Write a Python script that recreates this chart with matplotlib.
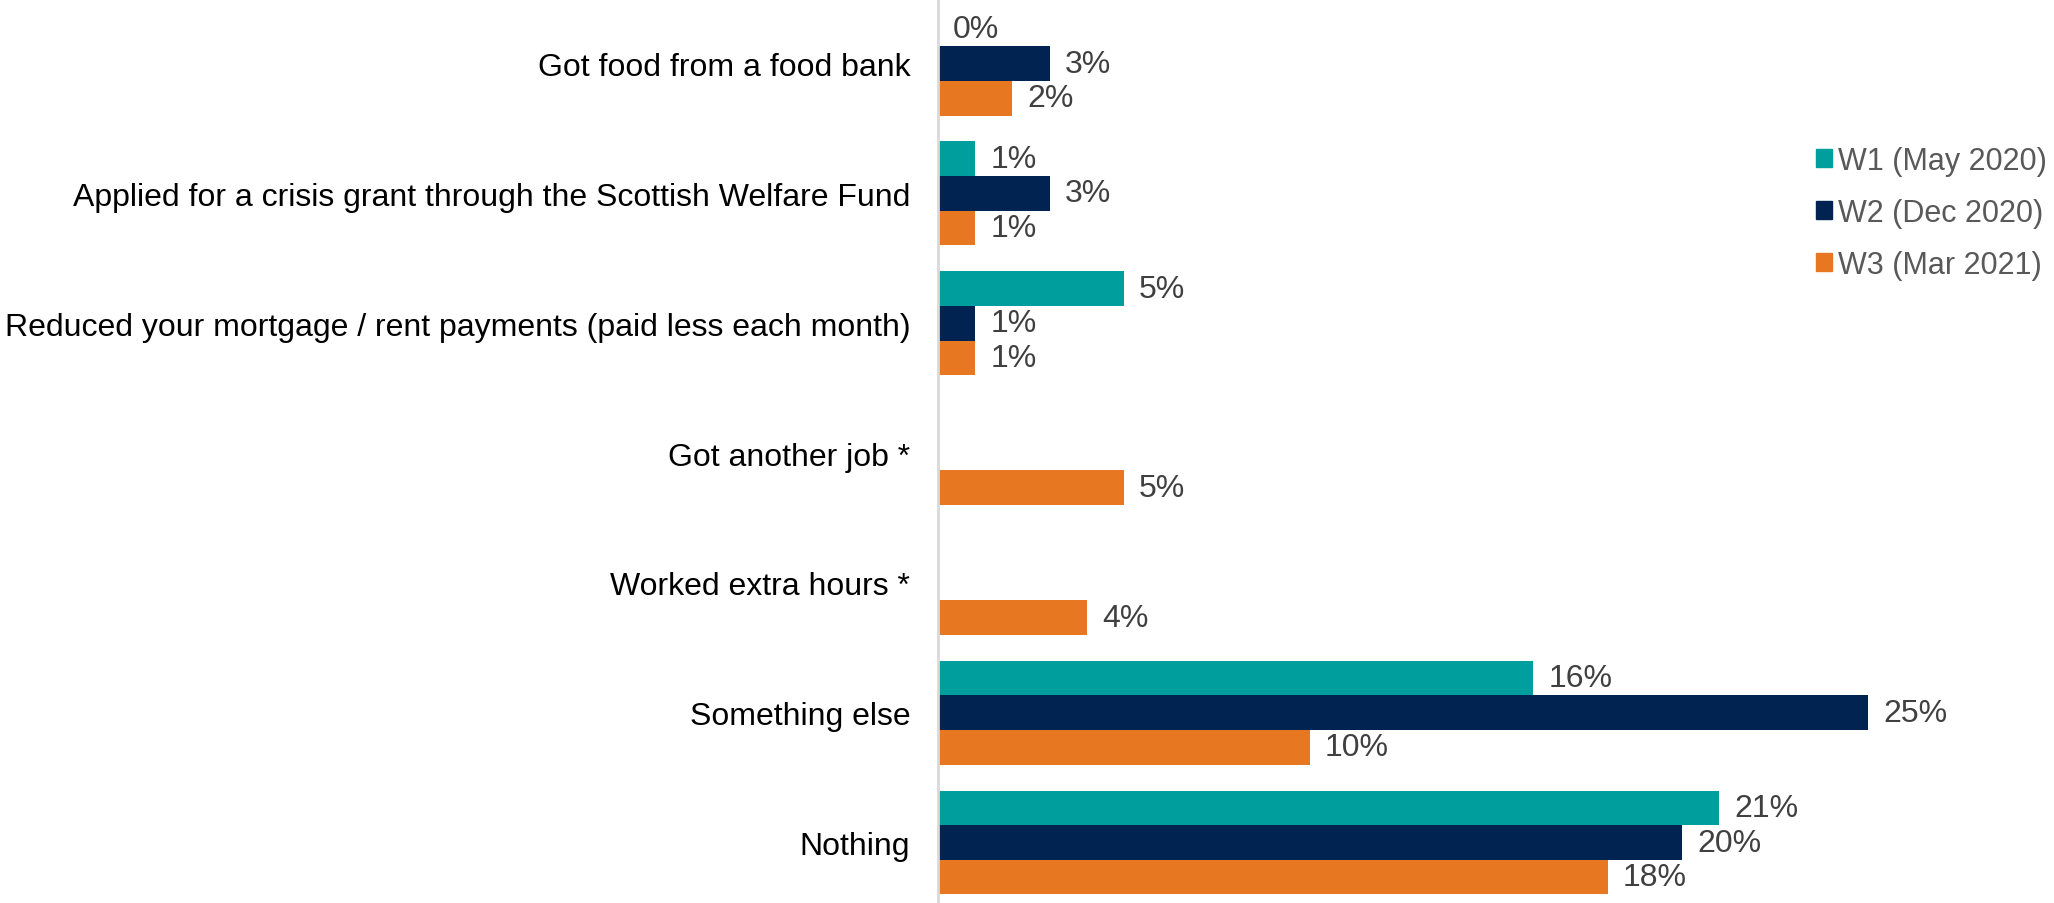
import matplotlib
matplotlib.use("Agg")
import matplotlib.pyplot as plt
import numpy as np
from matplotlib.patches import Patch

categorias = ["Got food from a food bank",
              "Applied for a crisis grant through the Scottish Welfare Fund",
              "Reduced your mortgage / rent payments (paid less each month)",
              "Got another job *",
              "Worked extra hours *",
              "Something else",
              "Nothing"]
oleadas = ["W1 (May 2020)", "W2 (Dec 2020)", "W3 (Mar 2021)"]
w1 = [0, 1, 5, np.nan, np.nan, 16, 21]
w2 = [3, 3, 1, np.nan, np.nan, 25, 20]
w3 = [2, 1, 1, 5, 4, 10, 18]

TEAL = "#009E9C"; NAVY = "#002352"; NAR = "#E87722"
colores = [TEAL, NAVY, NAR]
FS = 23

plt.rcParams.update({"font.family": ["Liberation Sans", "DejaVu Sans"], "font.size": FS})

fig = plt.figure(figsize=(20.54, 9.04), dpi=100)
ax = fig.add_axes([938/2054, 0, 1 - 938/2054, 1])

alto = 0.267
y = np.arange(len(categorias))
for j, (serie, c) in enumerate(zip([w1, w2, w3], colores)):
    pos = y + (j - 1) * alto
    vals = np.array(serie, dtype=float)
    ax.barh(pos, np.nan_to_num(vals), height=alto, color=c, edgecolor="none")
    for p, v in zip(pos, vals):
        if not np.isnan(v):
            ax.annotate(f"{v:.0f}%", (v, p), xytext=(15, 0), textcoords="offset pixels",
                        va="center", ha="left", color="#404040", fontsize=FS)

ax.set_xlim(0, 30)
ax.set_ylim(6.466, -0.498)
ax.set_yticks(y)
ax.set_yticklabels(categorias, color="#000000", fontsize=FS)
ax.tick_params(axis="y", length=0, pad=20)
ax.set_xticks([])
for s in ["top", "right", "bottom"]:
    ax.spines[s].set_visible(False)
ax.spines["left"].set_color("#D9D9D9")
ax.spines["left"].set_linewidth(2)

# leyenda a la derecha
handles = [Patch(color=c, label=l) for c, l in zip(colores, oleadas)]
leg = fig.legend(handles=handles, loc="center left", bbox_to_anchor=(1816/2054, 1 - 214/904),
                 frameon=False, borderpad=0, borderaxespad=0, handlelength=0.52,
                 handleheight=0.52, handletextpad=0.2, labelspacing=0.72, fontsize=22)
for t in leg.get_texts():
    t.set_color("#595959")

fig.savefig("out.png", dpi=100)
